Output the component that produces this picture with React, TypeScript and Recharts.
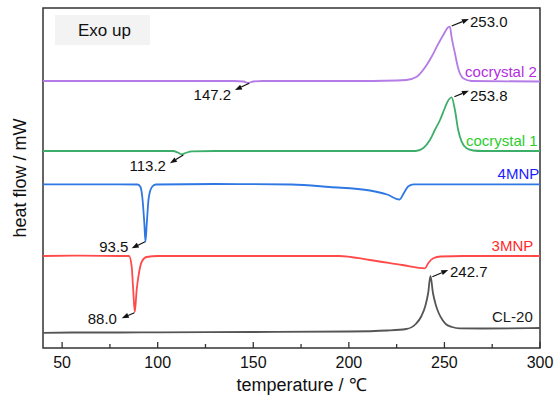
import { LineChart, Line, XAxis, YAxis, ReferenceArea, ReferenceLine, ReferenceDot } from 'recharts'

// temperatures (°C) and stacked heat-flow values (offset units) per trace
const cl20T = [40, 60, 80, 100, 150, 200, 220, 230, 235, 238, 240, 241.5, 242.7, 244, 245.5, 247, 249, 251, 254, 258, 270, 300]
const cl20V = [15.2, 15.5, 15.5, 15.7, 16, 16.5, 17.5, 19, 24, 32, 42, 55, 72, 55, 43, 35, 28, 23.5, 21, 19.7, 19.5, 20]

const mnp3T = [40, 60, 80, 85, 86.4, 87.2, 88, 89, 89.9, 91.6, 94.2, 100, 150, 195, 211, 228, 239.8, 241.6, 244.2, 248, 260, 300]
const mnp3V = [92, 92.3, 92, 92, 81.3, 58, 36, 58, 71.3, 86, 91, 92, 92, 92, 88, 83, 79.7, 85, 89.7, 91.5, 92, 92]

const mnp4T = [40, 80, 89.5, 91, 92, 93, 93.6, 94.3, 95.3, 97, 99, 130, 170, 190, 211, 220, 226.5, 228.8, 231, 234, 260, 300]
const mnp4V = [163.7, 163.7, 163.5, 161, 150, 125, 106.3, 125, 150, 161, 163.5, 164, 163.5, 161, 157.5, 153.5, 148.5, 155, 161.5, 163.7, 163.7, 163.7]

const co1T = [40, 100, 108, 110.5, 112.5, 114.5, 118, 130, 200, 235, 239, 242.4, 245, 247.7, 250, 251.2, 253.8, 255.5, 257.2, 259, 261.6, 265, 270, 300]
const co1V = [197, 197, 197, 195.5, 193.7, 195, 196.7, 197, 197, 197, 200, 208, 218, 228, 239, 244.7, 250.7, 238, 218, 206.3, 199.7, 197.5, 197, 197]

const co2T = [40, 100, 140, 145, 147.2, 150, 155, 200, 225, 230, 235.5, 240.7, 243.5, 246, 249.4, 252, 252.9, 253.7, 255.5, 257.2, 259.8, 264.2, 300]
const co2V = [267, 267, 267, 266.5, 265, 266.5, 267, 267, 267.5, 268, 271.3, 283, 292, 301.3, 313, 320.7, 321.3, 311.3, 294.7, 279.7, 269.7, 267, 266.5]

const xTicks = [50, 75, 100, 125, 150, 175, 200, 225, 250, 275, 300]

const toPts = (t: number[], v: number[]) => t.map((x, i) => ({ t: x, v: v[i] }))

const series = [
  { name: 'CL-20', data: toPts(cl20T, cl20V), color: '#555555', text: '#1a1a1a', lt: 296.2, lv: 31.3 },
  { name: '3MNP', data: toPts(mnp3T, mnp3V), color: '#ff4a4a', text: '#ff2a2a', lt: 296.5, lv: 103 },
  { name: '4MNP', data: toPts(mnp4T, mnp4V), color: '#2f78e4', text: '#1c1cff', lt: 299.6, lv: 174.7 },
  { name: 'cocrystal 1', data: toPts(co1T, co1V), color: '#3dae6a', text: '#2ccc2c', lt: 298.8, lv: 208 },
  { name: 'cocrystal 2', data: toPts(co2T, co2V), color: '#b57be6', text: '#b22ee0', lt: 298.3, lv: 276.3 },
]

// peak annotations: arrow from peak to label
const notes = [
  { text: '253.0', from: [253.8, 322], to: [262.8, 329], at: [263.4, 326.3], anchor: 'start' },
  { text: '253.8', from: [255.2, 251.3], to: [262.8, 257.3], at: [263.4, 253], anchor: 'start' },
  { text: '147.2', from: [147.9, 264.7], to: [140.4, 258], at: [138.4, 253.7], anchor: 'end' },
  { text: '113.2', from: [113.4, 193], to: [106.4, 184.7], at: [104.3, 182.3], anchor: 'end' },
  { text: '93.5', from: [93.4, 106.3], to: [86.4, 99.7], at: [84.7, 101.3], anchor: 'end' },
  { text: '88.0', from: [87.8, 35.3], to: [81.2, 29.7], at: [78.7, 29.7], anchor: 'end' },
  { text: '242.7', from: [243.7, 71.3], to: [252, 78], at: [252.9, 76.3], anchor: 'start' },
]

const font = '"Liberation Sans", Arial, sans-serif'

function XTick(props: any) {
  const { x, y, payload } = props
  const major = payload.value % 50 === 0
  return (
    <g>
      <line x1={x} x2={x} y1={y} y2={y - (major ? 6 : 4)} stroke="#333" strokeWidth={1.3} />
      {major && (
        <text x={x} y={y + 20} textAnchor="middle" fontSize={16} fontFamily={font} fill="#111">{payload.value}</text>
      )}
    </g>
  )
}

function Arrow(props: any) {
  const { x1, y1, x2, y2 } = props
  const dx = x2 - x1, dy = y2 - y1
  const len = Math.sqrt(dx * dx + dy * dy) || 1
  const ux = dx / len, uy = dy / len
  const bx = x2 - ux * 7, by = y2 - uy * 7
  const head = `${x2},${y2} ${bx - uy * 2.6},${by + ux * 2.6} ${bx + uy * 2.6},${by - ux * 2.6}`
  return (
    <g>
      <line x1={x1} y1={y1} x2={bx} y2={by} stroke="#111" strokeWidth={1.2} />
      <polygon points={head} fill="#111" />
    </g>
  )
}

const textShape = (txt: string, anchor: string, color: string, size: number) => (p: any) => (
  <text x={p.cx} y={p.cy} textAnchor={anchor} dominantBaseline="central" fontSize={size} fontFamily={font} fill={color}>{txt}</text>
)

export default function App() {
  return (
    <div style={{ position: 'absolute', left: 0, top: 0, background: '#fff' }}>
      <LineChart width={556} height={400} margin={{ top: 8, right: 16, bottom: 0, left: 0 }}>
        <XAxis
          dataKey="t" type="number" domain={[40, 300]} ticks={xTicks} allowDataOverflow
          height={52} tickSize={0} tickMargin={0} axisLine={false} tick={<XTick />} interval={0}
          label={(p: any) => (
            <text x={p.viewBox.x + p.viewBox.width / 2 + 10} y={391} textAnchor="middle" fontSize={18} fontFamily={font} fill="#111">
              temperature / ℃
            </text>
          )}
        />
        <YAxis
          type="number" domain={[0, 340]} width={43} tick={false} axisLine={false} tickLine={false}
          label={(p: any) => (
            <text x={26} y={178} transform="rotate(-90 26 178)" textAnchor="middle" fontSize={18} fontFamily={font} fill="#111">
              heat flow / mW
            </text>
          )}
        />
        <ReferenceArea x1={46.3} x2={96} y1={303} y2={333} fill="#f3f3f3" fillOpacity={1} stroke="none" />
        <ReferenceDot x={58.3} y={318} r={0} shape={textShape('Exo up', 'start', '#111', 17)} />
        {series.map(s => (
          <Line key={s.name} data={s.data} dataKey="v" type="monotone" stroke={s.color} strokeWidth={1.8} dot={false} isAnimationActive={false} />
        ))}
        {series.map(s => (
          <ReferenceDot key={'l' + s.name} x={s.lt} y={s.lv} r={0} ifOverflow="visible" shape={textShape(s.name, 'end', s.text, 15)} />
        ))}
        {notes.map(n => (
          <ReferenceLine key={'a' + n.text} segment={[{ x: n.from[0], y: n.from[1] }, { x: n.to[0], y: n.to[1] }]} ifOverflow="visible" shape={<Arrow />} />
        ))}
        {notes.map(n => (
          <ReferenceDot key={'t' + n.text} x={n.at[0]} y={n.at[1]} r={0} ifOverflow="visible" shape={textShape(n.text, n.anchor, '#111', 15)} />
        ))}
        <ReferenceArea x1={40} x2={300} y1={0} y2={340} fill="none" stroke="#333" strokeWidth={1.5} ifOverflow="visible" />
      </LineChart>
    </div>
  )
}
